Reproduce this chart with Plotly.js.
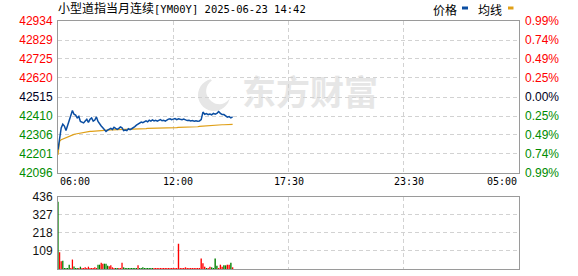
<!DOCTYPE html>
<html><head><meta charset="utf-8">
<script src="https://cdn.plot.ly/plotly-3.0.1.min.js"></script>
<style>html,body{margin:0;padding:0;background:#fff;}#chart{width:578px;height:276px;}</style>
</head><body><div id="chart"></div>
<script>
// ---- data ----
const chartName = '小型道指当月连续';
const chartCode = '[YM00Y]';
const stamp = '2025-06-23 14:42';
const sessionLabels = ['06:00', '12:00', '17:30', '23:30', '05:00'];
const sessionMinutes = [360, 330, 360, 330];
const stepMinutes = 5;
const prevSettle = 42515;
const priceTicks = [42096, 42201, 42306, 42410, 42515, 42620, 42725, 42829, 42934];
const volumeTicks = [0, 109, 218, 327, 436];
const legendNames = ['价格', '均线'];
const watermark = '东方财富';

const price = [
  42225, 42300, 42345, 42365, 42355, 42330, 42360, 42385, 42420, 42440,
  42420, 42415, 42400, 42408, 42380, 42375, 42372, 42382, 42392, 42375,
  42392, 42400, 42382, 42388, 42405, 42380, 42365, 42355, 42345, 42337,
  42325, 42332, 42338, 42342, 42336, 42348, 42342, 42337, 42342, 42350,
  42345, 42330, 42333, 42330, 42340, 42335, 42340, 42345, 42352, 42360,
  42365, 42373, 42377, 42373, 42380, 42383, 42378, 42387, 42382, 42389,
  42383, 42387, 42382, 42384, 42390, 42384, 42387, 42382, 42390, 42393,
  42395, 42390,
  42393, 42396, 42390, 42395, 42392, 42390, 42393, 42388, 42385, 42387,
  42383, 42385, 42382, 42384, 42381, 42383, 42390, 42432, 42420, 42424,
  42418, 42421, 42417, 42425, 42420, 42425, 42435, 42425, 42418, 42418,
  42410, 42404, 42407, 42400, 42405
];
const avgPrice = [
  42195, 42270, 42280, 42284, 42287, 42290, 42294, 42298, 42302, 42306,
  42309, 42311, 42313, 42315, 42317, 42318, 42320, 42321, 42322, 42323,
  42325, 42326, 42327, 42328, 42329, 42330, 42331, 42331, 42332, 42332,
  42332, 42333, 42333, 42334, 42334, 42335, 42335, 42335, 42336, 42336,
  42336, 42337, 42337, 42337, 42338, 42338, 42338, 42339, 42339, 42339,
  42340, 42340, 42340, 42341, 42341, 42341, 42342, 42342, 42342, 42342,
  42343, 42343, 42343, 42343, 42344, 42344, 42344, 42344, 42344, 42345,
  42345, 42345,
  42345, 42346, 42346, 42348, 42348, 42348, 42349, 42349, 42349, 42350,
  42350, 42350, 42351, 42351, 42351, 42353, 42354, 42355, 42356, 42356,
  42357, 42357, 42358, 42358, 42359, 42360, 42361, 42361, 42362, 42362,
  42363, 42363, 42364, 42364, 42364
];
const volume = [
  406, 101, 46, 50, 6, 6, 6, 26, 6, 57,
  15, 6, 6, 6, 14, 6, 6, 10, 6, 14,
  6, 6, 6, 10, 6, 26, 26, 38, 32, 32,
  32, 20, 16, 22, 10, 6, 6, 6, 6, 6,
  38, 10, 6, 6, 6, 6, 6, 6, 6, 6,
  22, 6, 6, 10, 6, 6, 6, 6, 6, 6,
  6, 6, 6, 6, 6, 6, 6, 6, 6, 6,
  6, 6,
  6, 6, 6, 153, 6, 6, 6, 10, 6, 6,
  6, 6, 6, 6, 6, 6, 64, 34, 14, 6,
  6, 14, 10, 6, 64, 20, 6, 26, 14, 22,
  22, 26, 26, 38, 10
];
// 1 = up (red), -1 = down (green)
const direction = [
  -1, 1, 1, -1, -1, -1, -1, -1, 1, 1,
  -1, -1, -1, 1, -1, 1, 1, 1, 1, 1,
  1, 1, 1, 1, 1, -1, -1, 1, 1, -1,
  -1, -1, 1, 1, 1, 1, -1, -1, 1, 1,
  1, -1, -1, -1, -1, -1, -1, -1, -1, -1,
  1, -1, -1, -1, -1, -1, -1, -1, -1, -1,
  1, 1, 1, 1, 1, 1, 1, 1, 1, 1,
  1, 1,
  1, 1, 1, 1, 1, 1, 1, 1, 1, 1,
  1, 1, 1, 1, 1, 1, 1, 1, 1, -1,
  1, 1, -1, -1, -1, -1, 1, 1, 1, -1,
  -1, 1, 1, -1, 1
];

// ---- helpers ----
function toSlot(min) {
  let s = 0;
  for (let i = 0; i < sessionMinutes.length; i++) {
    if (min < sessionMinutes[i] || i === sessionMinutes.length - 1) return s + min / sessionMinutes[i];
    min -= sessionMinutes[i]; s++;
  }
}
function slotWidth(min) {
  let i = 0;
  while (i < sessionMinutes.length - 1 && min >= sessionMinutes[i]) { min -= sessionMinutes[i]; i++; }
  return stepMinutes / sessionMinutes[i];
}
const xs = price.map((_, i) => toSlot(i * stepMinutes));
const barW = price.map((_, i) => slotWidth(i * stepMinutes) * 0.8);

const RED = '#ff0000', GREEN = '#008c00', DARK = '#000022';
function tickColor(v) { return v > prevSettle ? RED : (v < prevSettle ? GREEN : DARK); }
const leftText = priceTicks.map(v => `<span style="color:${tickColor(v)}">${v}</span>`);
const rightText = priceTicks.map(v => `<span style="color:${tickColor(v)}">${Math.abs((v - prevSettle) / prevSettle * 100).toFixed(2)}%</span>`);

// plot geometry (pixels)
const W = 578, H = 276, L = 58, R = 59, T = 21, B = 7;
const PW = W - L - R, PH = H - T - B;
const topBottomPx = 173, volTopPx = 196.7;
const px2x = p => (p - L) / PW;
const px2y = p => (H - B - p) / PH;

// watermark icon (decoration): a tilted crescent swoosh
function iconPath(cx, cy) {
  const pts = [];
  const rot = -0.5;
  const outer = [], inner = [];
  for (let a = 0.6; a <= 5.2; a += 0.2) {
    outer.push([cx + 16 * Math.cos(a + rot), cy + 16 * Math.sin(a + rot)]);
    const r = 16 - 9 * Math.sin((a - 0.6) / 4.6 * Math.PI);
    inner.push([cx + r * Math.cos(a + rot) + 1, cy + r * Math.sin(a + rot)]);
  }
  const all = outer.concat(inner.reverse());
  return 'M' + all.map(p => px2x(p[0]).toFixed(4) + ',' + px2y(p[1]).toFixed(4)).join('L') + 'Z';
}

const gridStyle = { showgrid: true, gridcolor: '#d2d2d2', griddash: '4px,3px', gridwidth: 1 };
const frame = { showline: true, mirror: true, linecolor: '#9a9a9a', linewidth: 1, zeroline: false };
const tickFont = { family: 'Liberation Sans, Arial, sans-serif', size: 12 };

const traces = [
  { type: 'scatter', mode: 'lines', x: xs, y: avgPrice, xaxis: 'x', yaxis: 'y',
    line: { color: '#e0a018', width: 1.2 }, hoverinfo: 'skip', showlegend: false },
  { type: 'scatter', mode: 'lines', x: xs, y: price, xaxis: 'x', yaxis: 'y',
    line: { color: '#0b4ea2', width: 1.5 }, hoverinfo: 'skip', showlegend: false },
  { type: 'scatter', mode: 'none', x: xs, y: price, xaxis: 'x', yaxis: 'y3',
    hoverinfo: 'skip', showlegend: false },
  { type: 'bar', x: xs, y: volume, width: barW, xaxis: 'x2', yaxis: 'y2',
    marker: { color: direction.map(d => d > 0 ? RED : '#008000'), line: { width: 0 } },
    hoverinfo: 'skip', showlegend: false }
];

const timeAnn = sessionLabels.map((t, i) => ({
  text: t, xref: 'x', yref: 'paper', x: i, y: px2y(topBottomPx), yanchor: 'top',
  xanchor: i === 0 ? 'left' : (i === sessionLabels.length - 1 ? 'right' : 'center'),
  xshift: (i === 1 || i === 3) ? 5 : 0, yshift: -1, showarrow: false,
  font: { family: 'DejaVu Sans Mono, monospace', size: 10, color: '#000' }
}));

const layout = {
  width: W, height: H,
  margin: { l: L, r: R, t: T, b: B, pad: 0 },
  paper_bgcolor: '#fff', plot_bgcolor: 'rgba(0,0,0,0)',
  showlegend: false,
  title: {
    text: `${chartName}<span style="font-family:'DejaVu Sans Mono';font-size:10.5px">${chartCode} ${stamp}</span>`,
    x: px2x(58), xref: 'paper', xanchor: 'left', y: 1 - 9 / H, yanchor: 'middle',
    font: { family: 'Noto Sans CJK SC, sans-serif', size: 12, color: '#000' }
  },
  xaxis: Object.assign({ domain: [0, 1], range: [0, 4], anchor: 'y', tickvals: [1, 2, 3],
    showticklabels: false, ticks: '' }, gridStyle, frame),
  xaxis2: Object.assign({ domain: [0, 1], range: [0, 4], anchor: 'y2', matches: 'x', tickvals: [1, 2, 3],
    showticklabels: false, ticks: '' }, gridStyle, frame),
  yaxis: Object.assign({ domain: [px2y(topBottomPx), 1], range: [priceTicks[0], priceTicks[priceTicks.length - 1]],
    tickvals: priceTicks, ticktext: leftText, ticks: '', tickfont: tickFont, ticklabelstandoff: 2 }, gridStyle, frame),
  yaxis3: { overlaying: 'y', side: 'right', anchor: 'x', range: [priceTicks[0], priceTicks[priceTicks.length - 1]],
    tickvals: priceTicks, ticktext: rightText, ticks: '', tickfont: tickFont, showgrid: false,
    showline: false, zeroline: false, ticklabelstandoff: 5 },
  yaxis2: Object.assign({ domain: [0, px2y(volTopPx)], range: [0, volumeTicks[volumeTicks.length - 1]],
    tickvals: volumeTicks, ticks: '', tickfont: Object.assign({ color: '#111' }, tickFont), ticklabelstandoff: 2 }, gridStyle, frame),
  shapes: [
    { type: 'rect', xref: 'paper', yref: 'paper', x0: px2x(238), x1: px2x(382), y0: px2y(112), y1: px2y(78),
      layer: 'below', line: { width: 0 }, fillcolor: 'rgba(0,0,0,0)',
      label: { text: watermark, font: { family: 'Noto Sans CJK SC, sans-serif', size: 34, color: '#e6e6e6', weight: 'bold' } } },
    { type: 'path', xref: 'paper', yref: 'paper', path: iconPath(214, 95), layer: 'below',
      fillcolor: '#e6e6e6', line: { width: 0 } },
    { type: 'rect', xref: 'paper', yref: 'paper', x0: px2x(462), x1: px2x(468), y0: px2y(9.5), y1: px2y(6.5),
      fillcolor: '#0b4ea2', line: { width: 0 } },
    { type: 'rect', xref: 'paper', yref: 'paper', x0: px2x(508), x1: px2x(513.5), y0: px2y(9.5), y1: px2y(6.5),
      fillcolor: '#e0a018', line: { width: 0 } }
  ],
  annotations: timeAnn.concat([
    { text: legendNames[0], xref: 'paper', yref: 'paper', x: px2x(431), y: px2y(9.5), xanchor: 'left', yanchor: 'middle',
      showarrow: false, font: { family: 'Noto Sans CJK SC, sans-serif', size: 12, color: '#000' } },
    { text: legendNames[1], xref: 'paper', yref: 'paper', x: px2x(476), y: px2y(9.5), xanchor: 'left', yanchor: 'middle',
      showarrow: false, font: { family: 'Noto Sans CJK SC, sans-serif', size: 12, color: '#000' } }
  ])
};

Plotly.newPlot('chart', traces, layout, { staticPlot: true, displayModeBar: false });
</script>
</body></html>
